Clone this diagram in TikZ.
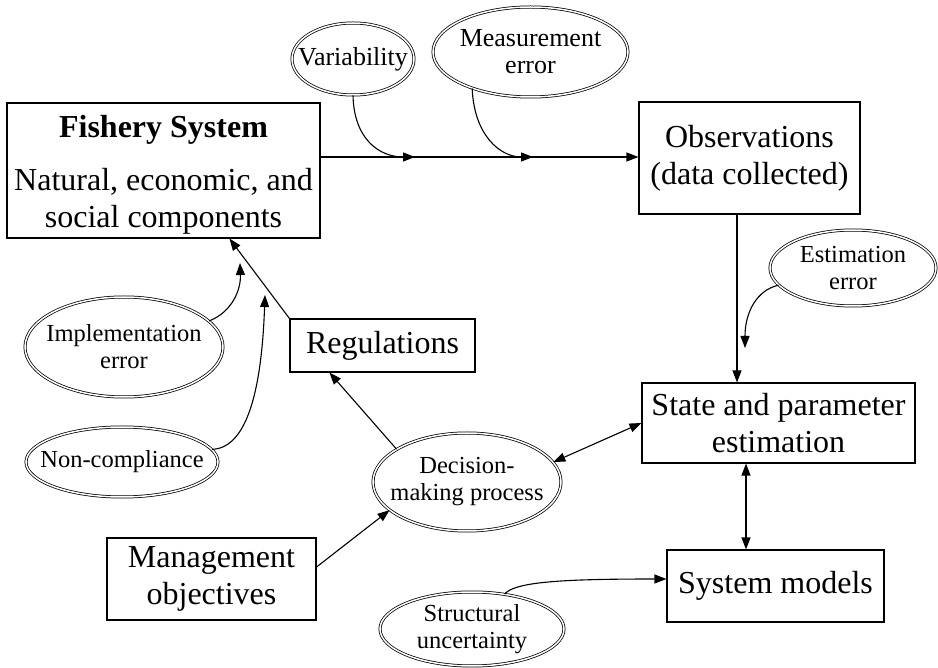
\documentclass[tikz,border=0pt]{standalone}
\usepackage{fontspec}
\setmainfont{Liberation Serif}
\usetikzlibrary{arrows.meta,shapes.geometric,calc}
\begin{document}
\begin{tikzpicture}[x=1pt,y=-1pt,
  box/.style={draw, line width=1.1pt, align=center, inner sep=0pt, font=\fontsize{32}{37}\selectfont},
  oval/.style={ellipse, draw, double, double distance=1.5pt, line width=0.75pt, align=center,
    inner xsep=-60pt, inner ysep=-30pt, font=\fontsize{24.5}{27}\selectfont},
  bigoval/.style={oval, font=\fontsize{26}{27}\selectfont},
  arr/.style={line width=1.1pt, -{Triangle[length=12pt,width=9pt]}},
  darr/.style={line width=1.1pt, {Triangle[length=12pt,width=9pt]}-{Triangle[length=12pt,width=9pt]}}
]
\useasboundingbox (0,0) rectangle (938,668);

% boxes
\node[box, minimum width=313pt, minimum height=135pt] (fish) at (163.5,170.5)
  {\rule{0pt}{30pt}\textbf{Fishery System}\\[16pt]Natural, economic, and\\social components};
\node[box, minimum width=221pt, minimum height=112pt] (obs) at (749.5,158) {Observations\\(data collected)};
\node[box, minimum width=185pt, minimum height=53pt] (reg) at (382.5,345.5) {Regulations};
\node[box, minimum width=273pt, minimum height=80pt] (state) at (778.5,423) {State and parameter\\estimation};
\node[box, minimum width=217pt, minimum height=72pt] (sys) at (775.5,586) {System models};
\node[box, minimum width=209pt, minimum height=82pt] (mgmt) at (211.5,579) {Management\\objectives};

% ovals
\node[bigoval, minimum width=122pt, minimum height=72pt] (var) at (353,59) {Variability};
\node[bigoval, minimum width=195pt, minimum height=90pt] (meas) at (530.5,52) {Measurement\\error};
\node[oval, minimum width=166pt, minimum height=76pt] (est) at (853,268) {Estimation\\error};
\node[oval, minimum width=198pt, minimum height=100pt] (impl) at (124,347) {Implementation\\error};
\node[oval, minimum width=192pt, minimum height=70pt] (nonc) at (122,462) {Non-compliance};
\node[oval, minimum width=188pt, minimum height=98pt] (dec) at (467,482) {Decision-\\making process};
\node[oval, minimum width=184pt, minimum height=74pt] (struc) at (472,629) {Structural\\uncertainty};

% helper coordinates
\coordinate (j1) at (415,157);
\coordinate (j2) at (533,157);
\coordinate (vx) at (737,0);
\coordinate (sx) at (746,0);
\coordinate (etip) at (745,348);
\coordinate (c1) at (240,263);
\coordinate (c2) at (265,295);

% connectors
\draw[arr] (fish.east |- j1) -- (obs.west |- j1);
\draw[arr] (var.south) .. controls (354,140) and (380,157) .. (j1);
\draw[arr] (meas.212) .. controls (474,135) and (500,157) .. (j2);
\draw[arr] (obs.south -| vx) -- (state.north -| vx);
\draw[arr] (est.193) .. controls (757,290) and (745,312) .. (etip);
\draw[darr] (state.south -| sx) -- (sys.north -| sx);
\draw[arr] (struc.47) .. controls (515,582) and (560,579) .. ([yshift=7pt]sys.west);
\draw[darr] (dec.13) -- (state.west);
\draw[arr] ([yshift=12pt]mgmt.east) -- (dec.200);
\draw[arr] (dec.155) -- ([xshift=40pt]reg.south west);
\draw[arr] (reg.north west) -- ([xshift=223pt]fish.south west);
\draw[arr] (impl.17) .. controls (232,312) and (241,290) .. (c1);
\draw[arr] (nonc.8) .. controls (250,448) and (262,380) .. (c2);
\end{tikzpicture}
\end{document}
